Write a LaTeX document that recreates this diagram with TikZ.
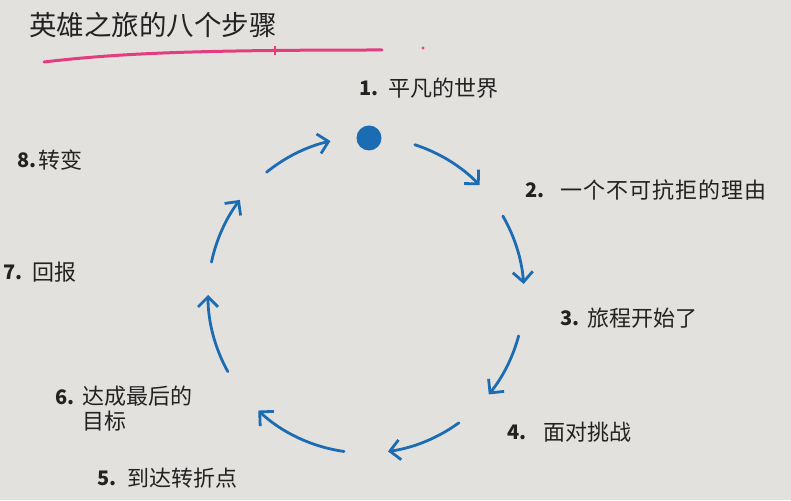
\documentclass[tikz,border=0pt]{standalone}
\usepackage{fontspec}
\setmainfont{Noto Sans CJK SC}
\usetikzlibrary{arrows.meta}
\definecolor{paper}{HTML}{E3E1DE}
\definecolor{pen}{HTML}{1B6CB3}
\definecolor{marker}{HTML}{E43D7F}
\definecolor{ink}{HTML}{222222}

\begin{document}
\begin{tikzpicture}[
x=1pt,y=1pt,
journey/.style={draw=pen,line width=2.8pt,line cap=round,-{Straight Barb[length=10pt,width=20pt,line width=2.8pt]}},
num/.style={anchor=west,inner sep=0pt,text=ink,font=\fontsize{20}{22}\selectfont\bfseries},
steplabel/.style={anchor=west,inner sep=0pt,text=ink,font=\fontsize{22}{25}\selectfont}
]
\fill[paper] (0,0) rectangle (791,500);
\useasboundingbox (0,0) rectangle (791,500);
\node[anchor=west,inner sep=0pt,text=ink,font=\fontsize{27.5}{30}\selectfont] (title) at (29,475) {英雄之旅的八个步骤};
\draw[marker,line width=3pt,line cap=round] (44,438) .. controls (120,447) and (200,450) .. (382,450);
\draw[marker,line width=2pt] (275,445) -- (275,454);
\fill[marker] (423,452) circle (1.6pt);
\coordinate (hub) at (366,205);
\node[circle,fill=pen,minimum size=25pt,inner sep=0pt] (world) at (369,362) {};
\foreach \a/\b in {72/44,30/4,-15/-39,-54/-82,-98/-133,-151/-180,-192/-217,-231/-257}
	\draw[journey] ([shift={(\a:158)}]hub) arc[start angle=\a,end angle=\b,radius=158];
\node[num] (n1) at (359,412) {1.};
\node[steplabel] (t1) at (388,412) {平凡的世界};
\node[num] (n2) at (525,310) {2.};
\node[steplabel] (t2) at (560,310) {\addfontfeature{LetterSpace=5}一个不可抗拒的理由};
\node[num] (n3) at (560,182) {3.};
\node[steplabel] (t3) at (587,182) {旅程开始了};
\node[num] (n4) at (507,68) {4.};
\node[steplabel] (t4) at (543,68) {面对挑战};
\node[num] (n5) at (97,22) {5.};
\node[steplabel] (t5) at (127,22) {到达转折点};
\node[num] (n6) at (55,103) {6.};
\node[steplabel,anchor=north west,align=left] (t6) at (82,114) {达成最后的\\目标};
\node[num] (n7) at (3,228) {7.};
\node[steplabel] (t7) at (32,228) {回报};
\node[num] (n8) at (17,340) {8.};
\node[steplabel] (t8) at (38,340) {转变};
\end{tikzpicture}
\end{document}
